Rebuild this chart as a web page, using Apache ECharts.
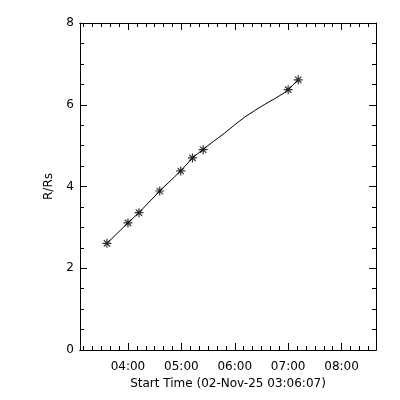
<!DOCTYPE html>
<html>
<head>
<meta charset="utf-8">
<script src="https://cdn.jsdelivr.net/npm/echarts@6/dist/echarts.min.js"></script>
<style>html,body{margin:0;padding:0;background:#fff}#c{width:400px;height:400px}</style>
</head>
<body>
<div id="c"></div>
<script>
// time in minutes since 00:00 on 02-Nov-25
var pointTimes = [216.4, 240.0, 252.4, 275.7, 299.3, 312.5, 324.5, 420.0, 431.3];
var pointValues = [2.61, 3.11, 3.36, 3.89, 4.38, 4.70, 4.90, 6.37, 6.61];
// fitted line
var lineTimes = [216.4, 240.0, 252.4, 275.7, 299.3, 312.5, 324.5, 336.5, 348.8, 360.0, 371.3, 382.5, 393.8, 405.0, 416.3, 420.0, 431.3];
var lineValues = [2.61, 3.11, 3.36, 3.89, 4.38, 4.70, 4.91, 5.11, 5.31, 5.51, 5.70, 5.86, 6.01, 6.15, 6.30, 6.37, 6.61];
var xTickLabels = ['04:00', '05:00', '06:00', '07:00', '08:00'];
var yTicks = [0, 2, 4, 6, 8];
var xMin = 186.117; // 03:06:07
var xMax = 518.7;
var xTitle = 'Start Time (02-Nov-25 03:06:07)';
var yTitle = 'R/Rs';

function toMin(s) { var p = s.split(':'); return (+p[0]) * 60 + (+p[1]); }
var majorVals = xTickLabels.map(toMin);
var minorVals = [];
for (var m = Math.ceil(xMin / 10) * 10; m <= xMax; m += 10) {
  if (m % 60 !== 0) minorVals.push(m);
}
function fmt(v) {
  var h = Math.floor(v / 60), mm = Math.round(v - h * 60);
  return (h < 10 ? '0' : '') + h + ':' + (mm < 10 ? '0' : '') + mm;
}
var font = 'DejaVu Sans';
var lineStyle = { color: '#000', width: 1 };

function xAxisDef(pos, major, labels, title) {
  return {
    type: 'value', position: pos, min: xMin, max: xMax,
    axisLine: { show: true, onZero: false, lineStyle: lineStyle },
    axisTick: { show: true, inside: true, length: major ? 7 : 4, lineStyle: lineStyle,
      customValues: major ? majorVals : minorVals },
    axisLabel: { show: labels, customValues: majorVals, formatter: fmt,
      color: '#000', fontFamily: font, fontSize: 12, margin: 11 },
    splitLine: { show: false },
    name: title || '', nameLocation: 'middle', nameGap: 26,
    nameTextStyle: { color: '#000', fontFamily: font, fontSize: 12 }
  };
}
function yAxisDef(pos, labels, title) {
  return {
    type: 'value', position: pos, min: 0, max: 8, interval: 2,
    axisLine: { show: true, onZero: false, lineStyle: lineStyle },
    axisTick: { show: true, inside: true, length: 7, lineStyle: lineStyle },
    minorTick: { show: true, splitNumber: 4, length: 4, lineStyle: lineStyle },
    axisLabel: { show: labels, color: '#000', fontFamily: font, fontSize: 12, margin: 6,
      customValues: yTicks },
    splitLine: { show: false }, minorSplitLine: { show: false },
    name: title || '', nameLocation: 'middle', nameGap: 25,
    nameTextStyle: { color: '#000', fontFamily: font, fontSize: 12 }
  };
}

var chart = echarts.init(document.getElementById('c'), null, { renderer: 'canvas' });
chart.setOption({
  backgroundColor: '#fff',
  animation: false,
  grid: { left: 80, right: 24, top: 23, bottom: 50, containLabel: false },
  xAxis: [
    xAxisDef('bottom', true, true, xTitle),
    xAxisDef('bottom', false, false),
    xAxisDef('top', true, false),
    xAxisDef('top', false, false)
  ],
  yAxis: [
    yAxisDef('left', true, yTitle),
    yAxisDef('right', false)
  ],
  series: [
    {
      type: 'line', xAxisIndex: 0, yAxisIndex: 0,
      data: lineTimes.map(function (t, i) { return [t, lineValues[i]]; }),
      showSymbol: false, symbol: 'none', smooth: false,
      lineStyle: { color: '#000', width: 1 }
    },
    {
      type: 'scatter', xAxisIndex: 0, yAxisIndex: 0,
      data: pointTimes.map(function (t, i) { return [t, pointValues[i]]; }),
      symbol: 'path://M0,-10L0,10M-10,0L10,0M-7,-7L7,7M-7,7L7,-7',
      symbolSize: 9,
      itemStyle: { color: 'none', borderColor: '#000', borderWidth: 1.2 }
    }
  ]
});
</script>
</body>
</html>
